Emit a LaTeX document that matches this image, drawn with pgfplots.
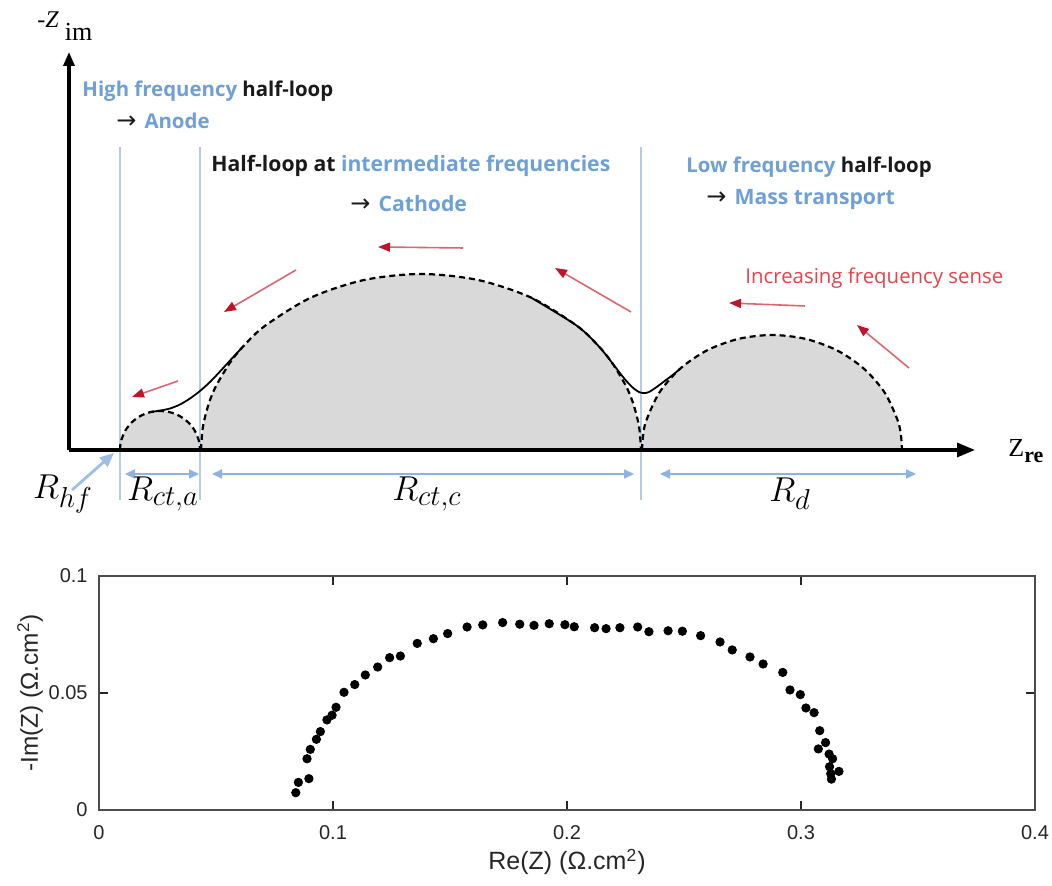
\documentclass[border=0pt]{standalone}
\usepackage{pgfplots}
\pgfplotsset{compat=1.18}
\usepackage{fontspec}
\setmainfont{Liberation Sans}
\newfontfamily\annot{Open Sans}
\newfontfamily\serif{Liberation Serif}
\newfontfamily\sym{DejaVu Sans}
\usetikzlibrary{arrows.meta}
\definecolor{lblue}{HTML}{6E9FD5}
\definecolor{dimblue}{HTML}{8DB3E2}
\definecolor{vblue}{HTML}{B4CCE6}
\definecolor{redtxt}{HTML}{E8414B}
\definecolor{redline}{HTML}{DB6670}
\definecolor{redhead}{HTML}{C0142A}
\definecolor{loopfill}{HTML}{D9D9D9}
\definecolor{txtblack}{HTML}{1A1A1A}
\definecolor{tickc}{HTML}{262626}
\begin{document}
\begin{tikzpicture}
% ---------------- top schematic ----------------
\begin{axis}[
  at={(34.5pt,218pt)}, anchor=origin,
  x=0.5pt, y=0.5pt,
  xmin=-69, xmax=983, ymin=-436, ymax=450,
  hide axis, clip=false,
]
% vertical guide lines
\addplot[vblue, line width=0.7pt] coordinates {(51,-50) (51,303)};
\addplot[vblue, line width=0.7pt] coordinates {(131,-50) (131,303)};
\addplot[vblue, line width=0.7pt] coordinates {(572,-50) (572,303)};
% loops
\addplot[fill=loopfill, draw=black, line width=1.1pt, dash pattern=on 3pt off 2pt, smooth] coordinates {
(51,0) (51.34,5.09) (52.36,10.09) (56.36,19.5) (62.72,27.58) (71,33.77) (80.65,37.67) (91,39)
(101.35,37.67) (111,33.77) (119.28,27.58) (125.64,19.5) (129.64,10.09) (130.66,5.09) (131,0)};
\addplot[fill=loopfill, draw=black, line width=1.1pt, dash pattern=on 3pt off 2pt, smooth] coordinates {
(132,0) (133.9,22.97) (139.5,45.55) (147,63.9) (161.5,88) (175,104.5) (196.4,124.45) (242,152.42) (295.1,170) (352,176)
(408.9,170) (462,152.42) (507.6,124.45) (529,104.5) (542.5,88) (557,63.9) (564.5,45.55) (570.1,22.97) (572,0)};
\addplot[fill=loopfill, draw=black, line width=1.1pt, dash pattern=on 3pt off 2pt, smooth] coordinates {
(573,0) (574.1,15) (577.4,29.8) (590.4,57.5) (611.1,81.3) (638,99.6) (669.4,111.1) (703,115)
(736.6,111.1) (768,99.6) (794.9,81.3) (815.6,57.5) (828.6,29.8) (831.9,15) (833,0)};
% solid envelope connectors
\addplot[black, line width=0.9pt, smooth] coordinates {
(80,37.8) (91,39.4) (101,41.5) (111,45.5) (121,51.5) (131,59) (141,68) (151,78.5) (162,90.5) (175,104.5)};
\addplot[black, line width=0.9pt, smooth] coordinates {
(462,152.42) (507.6,124.45) (529,104.5) (542.5,88) (552,75.5) (560,66) (566,60.5) (571,57.5) (575,56.8) (580,58) (587,62.5) (597,70) (605,76) (611.1,81.3)};
% axes
\addplot[black, line width=1.6pt, -{Triangle[length=9pt,width=7pt]}] coordinates {(0,0) (906,0)};
\addplot[black, line width=1.6pt, -{Triangle[length=7pt,width=5.5pt]}] coordinates {(0,0) (0,398)};
% dimension arrows
\addplot[dimblue, line width=0.9pt, {Triangle[length=5pt,width=4.5pt]}-{Triangle[length=5pt,width=4.5pt]}] coordinates {(56,-24) (130,-24)};
\addplot[dimblue, line width=0.9pt, {Triangle[length=5pt,width=4.5pt]}-{Triangle[length=5pt,width=4.5pt]}] coordinates {(143,-24) (565,-24)};
\addplot[dimblue, line width=0.9pt, {Triangle[length=5pt,width=4.5pt]}-{Triangle[length=5pt,width=4.5pt]}] coordinates {(591,-24) (847,-24)};
\addplot[dimblue!85, line width=1.4pt, -{Triangle[length=7pt,width=6pt]}] coordinates {(3,-40) (45,-3)};
% red arrows
\addplot[redline, line width=0.8pt, -{Triangle[length=6pt,width=4.5pt,color=redhead]}] coordinates {(109,69) (63,53)};
\addplot[redline, line width=0.8pt, -{Triangle[length=6pt,width=4.5pt,color=redhead]}] coordinates {(227,180) (155,138)};
\addplot[redline, line width=0.8pt, -{Triangle[length=6pt,width=4.5pt,color=redhead]}] coordinates {(394,202) (309,203)};
\addplot[redline, line width=0.8pt, -{Triangle[length=6pt,width=4.5pt,color=redhead]}] coordinates {(562,138) (486,182)};
\addplot[redline, line width=0.8pt, -{Triangle[length=6pt,width=4.5pt,color=redhead]}] coordinates {(736,144) (660,147)};
\addplot[redline, line width=0.8pt, -{Triangle[length=6pt,width=4.5pt,color=redhead]}] coordinates {(840,82) (788,125)};
% texts
\node[anchor=west, inner sep=0] at (axis cs:13,359) {\annot\bfseries\fontsize{10.2}{12}\selectfont\textcolor{lblue}{High frequency} \textcolor{txtblack}{half-loop}};
\node[anchor=west, inner sep=0] at (axis cs:47,329) {\textcolor{txtblack}{\sym\fontsize{12}{12}\selectfont →}\hspace{4pt}\annot\bfseries\fontsize{10.2}{12}\selectfont\textcolor{lblue}{Anode}};
\node[anchor=west, inner sep=0] at (axis cs:142,284) {\annot\bfseries\fontsize{10.6}{12}\selectfont\textcolor{txtblack}{Half-loop at} \textcolor{lblue}{intermediate frequencies}};
\node[anchor=west, inner sep=0] at (axis cs:281,246) {\textcolor{txtblack}{\sym\fontsize{12}{12}\selectfont →}\hspace{4pt}\annot\bfseries\fontsize{10.6}{12}\selectfont\textcolor{lblue}{Cathode}};
\node[anchor=west, inner sep=0] at (axis cs:617,283) {\annot\bfseries\fontsize{10.2}{12}\selectfont\textcolor{lblue}{Low frequency} \textcolor{txtblack}{half-loop}};
\node[anchor=west, inner sep=0] at (axis cs:637,250) {\textcolor{txtblack}{\sym\fontsize{12}{12}\selectfont →}\hspace{4pt}\annot\bfseries\fontsize{10.6}{12}\selectfont\textcolor{lblue}{Mass transport}};
\node[anchor=west, inner sep=0] at (axis cs:676,172) {\annot\fontsize{10.2}{12}\selectfont\textcolor{redtxt}{Increasing frequency sense}};
% resistance labels
\node[inner sep=0] at (axis cs:-6,-44) {\fontsize{19}{20}\selectfont $R_{hf}$};
\node[inner sep=0] at (axis cs:94,-44) {\fontsize{19}{20}\selectfont $R_{ct,a}$};
\node[inner sep=0] at (axis cs:358,-44) {\fontsize{19}{20}\selectfont $R_{ct,c}$};
\node[inner sep=0] at (axis cs:721,-44) {\fontsize{19}{20}\selectfont $R_{d}$};
% axis names
\node[anchor=base west, inner sep=0] at (axis cs:-32,422) {\serif\fontsize{12}{12}\selectfont -\textit{Z}\raisebox{-1.1ex}{\fontsize{13}{13}\selectfont\hspace{3pt}im}};
\node[anchor=base west, inner sep=0] at (axis cs:939,-7) {\serif\fontsize{13}{13}\selectfont Z\raisebox{-0.5ex}{\fontsize{11}{11}\selectfont\bfseries re}};
\end{axis}
% ---------------- bottom Nyquist plot ----------------
\begin{axis}[
  at={(49.5pt,38pt)}, anchor=south west,
  width=468pt, height=117pt, scale only axis,
  xmin=0, xmax=0.4, ymin=0, ymax=0.1,
  xtick={0,0.1,0.2,0.3,0.4}, xticklabels={0,0.1,0.2,0.3,0.4},
  ytick={0,0.05,0.1}, yticklabels={0,0.05,0.1},
  tick align=inside, major tick length=4.5pt,
  every tick/.style={tickc, line width=0.6pt},
  axis line style={black!70, line width=0.6pt},
  tick label style={font=\fontsize{10}{12}\selectfont, text=tickc},
  xticklabel style={anchor=north, inner sep=0pt, yshift=-7.5pt},
  yticklabel style={anchor=east, inner sep=0pt, xshift=-5.5pt},
  xlabel={Re(Z) (Ω.cm\textsuperscript{2})},
  ylabel={-Im(Z) (Ω.cm\textsuperscript{2})},
  every axis x label/.style={at={(axis description cs:0.5,-0.222)}, anchor=center, font=\fontsize{12.5}{14}\selectfont, text=tickc},
  every axis y label/.style={at={(axis description cs:-0.0737,0.5)}, anchor=center, rotate=90, font=\fontsize{12.2}{14}\selectfont, text=tickc},
]
\addplot[only marks, mark=*, mark size=2.1pt, black] coordinates {
(0.0841,0.0074) (0.0852,0.0118) (0.0897,0.0134) (0.0889,0.0219) (0.0903,0.0259) (0.0929,0.0302)
(0.0946,0.0335) (0.0974,0.0385) (0.0996,0.0405) (0.1013,0.0439) (0.1047,0.0503) (0.1093,0.0536)
(0.1138,0.0577) (0.1191,0.0611) (0.1242,0.0651) (0.1288,0.0658) (0.1360,0.0712) (0.1429,0.0732)
(0.1490,0.0754) (0.1573,0.0782) (0.1640,0.0791) (0.1725,0.0801) (0.1798,0.0794) (0.1859,0.0789)
(0.1924,0.0796) (0.1991,0.0792) (0.2031,0.0783) (0.2118,0.0779) (0.2167,0.0775) (0.2226,0.0779)
(0.2302,0.0782) (0.2350,0.0762) (0.2432,0.0766) (0.2493,0.0764) (0.2571,0.0745) (0.2654,0.0718)
(0.2706,0.0684) (0.2782,0.0654) (0.2838,0.0624) (0.2922,0.0588) (0.2953,0.0513) (0.2997,0.0493)
(0.3021,0.0436) (0.3056,0.0416) (0.3080,0.0339) (0.3105,0.0288) (0.3074,0.0261) (0.3120,0.0239)
(0.3135,0.0219) (0.3122,0.0185) (0.3162,0.0165) (0.3127,0.0155) (0.3130,0.0132)};
\end{axis}
\pgfresetboundingbox
\useasboundingbox (0,0) rectangle (526pt,443pt);
\end{tikzpicture}
\end{document}
